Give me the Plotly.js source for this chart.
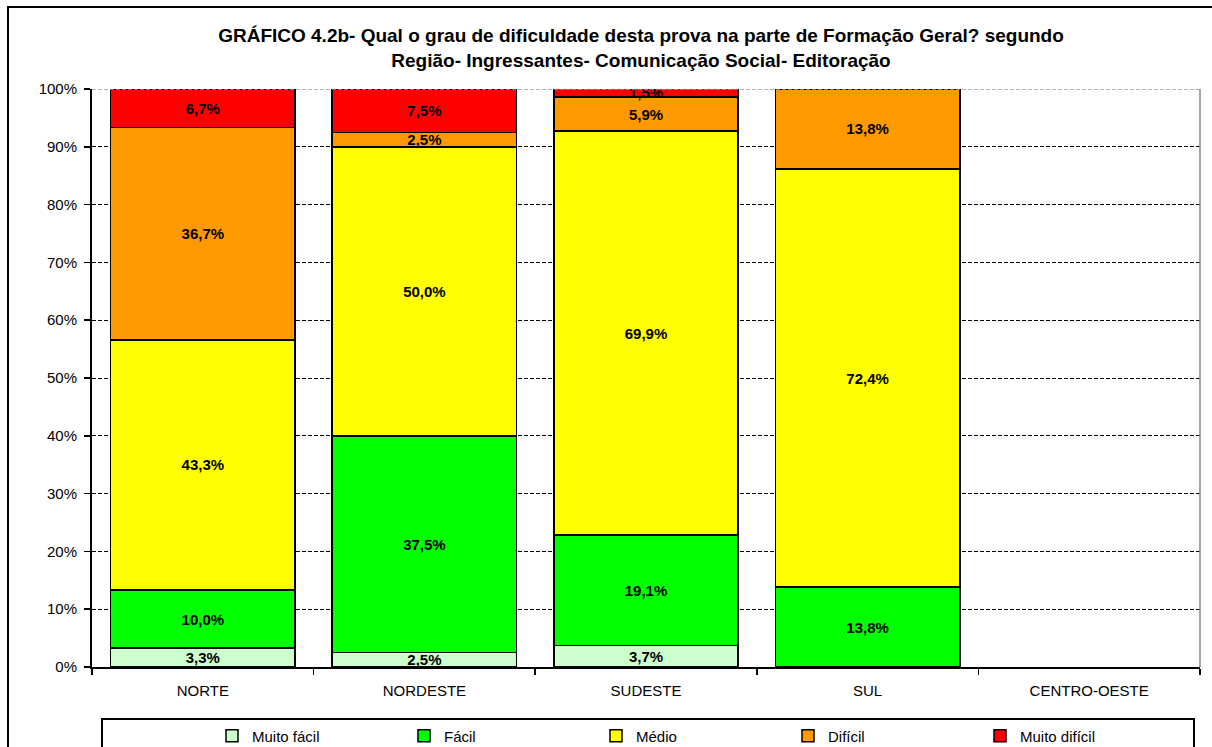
<!DOCTYPE html>
<html>
<head>
<meta charset="utf-8">
<script src="https://cdn.plot.ly/plotly-3.0.1.min.js"></script>
<style>html,body{margin:0;padding:0;background:#fff}#chart{width:1212px;height:747px}</style>
</head>
<body>
<div id="chart"></div>
<script>
const regions = ["NORTE", "NORDESTE", "SUDESTE", "SUL", "CENTRO-OESTE"];
const seriesNames = ["Muito fácil", "Fácil", "Médio", "Difícil", "Muito difícil"];
const muitoFacil   = [3.3, 2.5, 3.7, null, null];
const facil        = [10.0, 37.5, 19.1, 13.8, null];
const medio        = [43.3, 50.0, 69.9, 72.4, null];
const dificil      = [36.7, 2.5, 5.9, 13.8, null];
const muitoDificil = [6.7, 7.5, 1.5, null, null];
const yTicks = [0, 10, 20, 30, 40, 50, 60, 70, 80, 90, 100];

const colors = ["#CCFFCC", "#00FF00", "#FFFF00", "#FF9900", "#FF0000"];
const allSeries = [muitoFacil, facil, medio, dificil, muitoDificil];
const FONT = "Liberation Sans, Arial, sans-serif";

const traces = allSeries.map((vals, i) => ({
  type: "bar",
  name: seriesNames[i],
  x: regions,
  y: vals,
  marker: {color: colors[i], line: {color: "#000", width: 1.5}},
  texttemplate: "<b>%{y:.1f}%</b>",
  textposition: "inside",
  insidetextanchor: "middle",
  textangle: 0,
  textfont: {family: FONT, size: 15, color: "#000"},
  hoverinfo: "skip"
}));

const pl = 92, pr = 1200, pt = 89, pb = 667;
const W = pr - pl, H = pb - pt;
const px = v => (v - pl) / W;
const py = v => (pb - v) / H;

const layout = {
  width: 1212, height: 747,
  margin: {l: pl, r: 1212 - pr, t: pt, b: 747 - pb},
  paper_bgcolor: "#fff", plot_bgcolor: "#fff",
  barmode: "stack",
  bargap: 0.168,
  separators: ",.",
  font: {family: FONT, size: 15, color: "#000"},
  title: {
    text: "<b>GRÁFICO 4.2b- Qual o grau de dificuldade desta prova na parte de Formação Geral? segundo<br>Região- Ingressantes- Comunicação Social- Editoração</b>",
    font: {family: FONT, size: 19, color: "#000"},
    x: px(641), xanchor: "center", xref: "paper",
    y: 1 - 42/747, yanchor: "middle"
  },
  uniformtext: {mode: "show", minsize: 15},
  xaxis: {
    type: "category",
    automargin: false,
    showgrid: false,
    showline: true, linecolor: "#000", linewidth: 2,
    ticks: "outside", tickson: "boundaries", ticklen: 6, tickwidth: 1.5, tickcolor: "#000",
    ticklabelstandoff: 9,
    tickfont: {family: FONT, size: 15, color: "#000"},
    fixedrange: true
  },
  yaxis: {
    automargin: false,
    range: [0, 100],
    tickvals: yTicks,
    ticktext: yTicks.map(v => v + "%"),
    showgrid: true, gridcolor: "#000", gridwidth: 1, griddash: "4px,2px",
    showline: true, linecolor: "#000", linewidth: 2,
    ticks: "outside", ticklen: 6, tickwidth: 1.5, tickcolor: "#000",
    ticklabelstandoff: 4,
    tickfont: {family: FONT, size: 15, color: "#000"},
    zeroline: false,
    fixedrange: true
  },
  showlegend: true,
  legend: {
    orientation: "h",
    xref: "container", yref: "container",
    x: 212 / 1212, xanchor: "left",
    y: 1 - 736 / 747, yanchor: "middle",
    traceorder: "normal",
    font: {family: FONT, size: 15, color: "#000"},
    entrywidth: 147,
    itemwidth: 30,
    bgcolor: "rgba(0,0,0,0)",
    borderwidth: 0
  },
  shapes: [
    {type: "line", xref: "paper", yref: "y", x0: 0, x1: 1, y0: 100, y1: 100, line: {color: "#999", width: 1.5, dash: "4px,2px"}},
    {type: "line", xref: "paper", yref: "paper", x0: 1, x1: 1, y0: 0, y1: 1, line: {color: "#888", width: 1.5}},
    {type: "rect", xref: "paper", yref: "paper", x0: px(102), x1: px(1194), y0: py(760), y1: py(719), line: {color: "#000", width: 2}},
    {type: "rect", xref: "paper", yref: "paper", x0: px(8), x1: px(1230), y0: py(760), y1: py(7), line: {color: "#000", width: 2}}
  ]
};

Plotly.newPlot("chart", traces, layout, {displayModeBar: false, staticPlot: true});
</script>
</body>
</html>
